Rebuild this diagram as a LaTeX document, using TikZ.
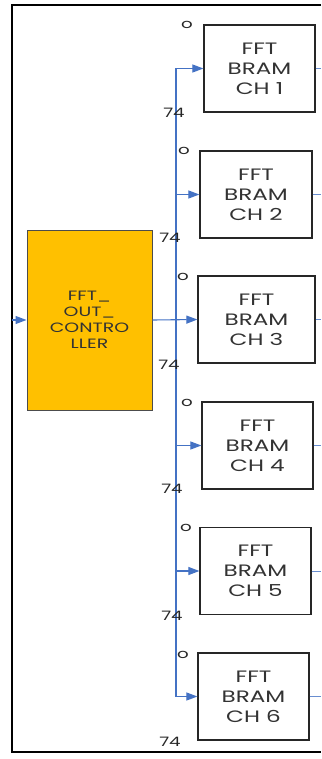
\documentclass[tikz,border=0pt]{standalone}
\usepackage{fontspec}
\setmainfont{Poppins}
\newfontfamily\widefont[FakeStretch=1.4]{Poppins}
\usepackage{tikz}
\usetikzlibrary{arrows.meta, positioning, calc}
\definecolor{busblue}{RGB}{68, 114, 196}
\definecolor{ctrlorange}{RGB}{255, 192, 0}

\begin{document}
\begin{tikzpicture}[x=1pt, y=-1pt,
    bram/.style={rectangle, draw=black!85, line width=1.2pt, fill=white, minimum height=87pt, align=center, font=\widefont\fontsize{16.5}{20}\selectfont, text=black!80},
    ctrl/.style={rectangle, draw=black!70, line width=1pt, fill=ctrlorange, minimum width=125pt, minimum height=180pt, align=center, font=\widefont\fontsize{13.5}{16}\selectfont, text=black!80},
    branch/.style={busblue, line width=1.1pt, -{Triangle[length=11pt, width=8pt]}},
    stub/.style={busblue!80, line width=1pt},
    lbl/.style={font=\widefont\fontsize{13}{14}\selectfont, text=black!85, inner sep=0pt}]
        \useasboundingbox (0,0) rectangle (321,759);
        % frame, right side cut off
        \draw[line width=2.4pt] (321,5) -- (12,5) -- (12,752) -- (321,752);
        \coordinate (bus) at (176,0);
        \coordinate (edge) at (321,0);
        \coordinate (in) at (12,320);
        \node[ctrl] (ctrl) at (89.5,320) {FFT\_\\OUT\_\\CONTRO\\LLER};
        \foreach \i/\x/\y/\w in {1/259.5/68.5/111, 2/256/194.5/112, 3/256.5/319.5/117, 4/257.5/445.5/111, 5/255.5/571/111, 6/253.5/696.5/111}
            \node[bram, minimum width=\w pt] (ch\i) at (\x,\y) {FFT\\BRAM\\CH \i};
        % bus
        \draw[busblue, line width=2pt] (ch1.west -| bus) -- (ch6.west -| bus);
        \foreach \i in {1,2,4,5,6}
            \draw[branch] (ch\i.west -| bus) -- (ch\i.west);
        \draw[branch] (ctrl.east) -- (ch3.west);
        \draw[branch] (in) -- (ctrl.west);
        \foreach \i in {1,...,6}
            \draw[stub] (ch\i.east) -- (ch\i.east -| edge);
        % widths
        \foreach \i/\x/\y in {1/187/25, 2/184/151, 3/183/277, 4/187/403, 5/186/528, 6/183/655}
            \node[lbl] (o\i) at (\x,\y) {o};
        \foreach \i/\x/\y in {1/174/113, 2/170/238, 3/169/365, 4/172/489, 5/172/616, 6/170/742}
            \node[lbl] (n\i) at (\x,\y) {74};
    \end{tikzpicture}
\end{document}
